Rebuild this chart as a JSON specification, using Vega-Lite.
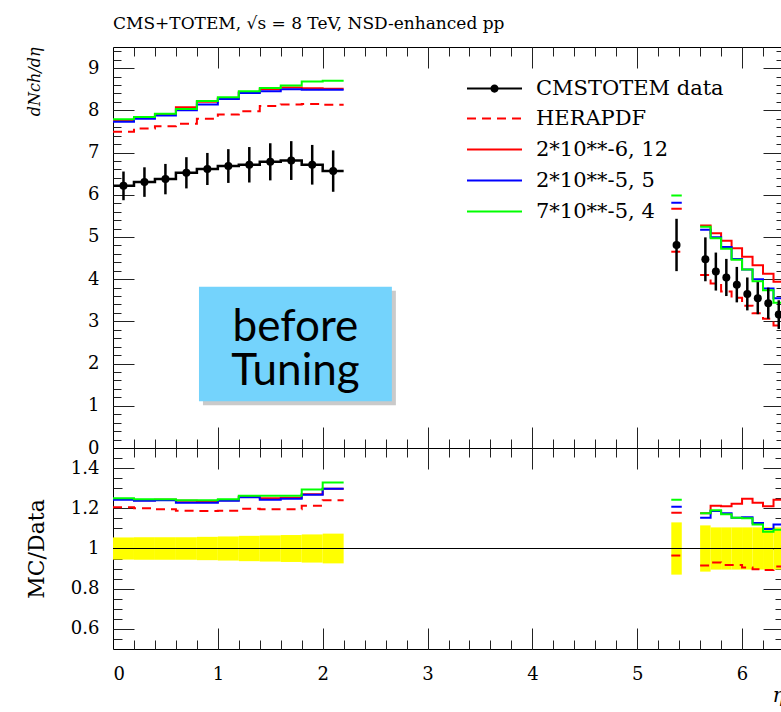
{
  "$schema": "https://vega.github.io/schema/vega-lite/v6.json",
  "padding": {"left": 24, "top": 14, "right": 0, "bottom": 0},
  "background": "white",
  "spacing": 0,
  "bounds": "flush",
  "config": {
    "font": "DejaVu Serif",
    "view": {"stroke": "black", "strokeWidth": 1},
    "axis": {"grid": false, "domain": false, "labelFont": "DejaVu Serif", "labelFontSize": 18, "labelColor": "black", "tickColor": "#222", "tickWidth": 1, "labelPadding": 14, "minExtent": 0, "titleFont": "DejaVu Serif", "titleColor": "black", "titleFontWeight": "normal"}
  },
  "resolve": {"scale": {"color": "independent", "strokeDash": "independent", "shape": "independent"}},
  "datasets": {
    "mc": [
      {"s": "HERAPDF", "g": "c", "lo": 0.0, "hi": 0.2, "v": 7.49, "r": 1.205},
      {"s": "HERAPDF", "g": "c", "lo": 0.2, "hi": 0.4, "v": 7.57, "r": 1.200},
      {"s": "HERAPDF", "g": "c", "lo": 0.4, "hi": 0.6, "v": 7.62, "r": 1.195},
      {"s": "HERAPDF", "g": "c", "lo": 0.6, "hi": 0.8, "v": 7.68, "r": 1.188},
      {"s": "HERAPDF", "g": "c", "lo": 0.8, "hi": 1.0, "v": 7.80, "r": 1.187},
      {"s": "HERAPDF", "g": "c", "lo": 1.0, "hi": 1.2, "v": 7.90, "r": 1.188},
      {"s": "HERAPDF", "g": "c", "lo": 1.2, "hi": 1.4, "v": 7.98, "r": 1.198},
      {"s": "HERAPDF", "g": "c", "lo": 1.4, "hi": 1.6, "v": 8.10, "r": 1.195},
      {"s": "HERAPDF", "g": "c", "lo": 1.6, "hi": 1.8, "v": 8.14, "r": 1.195},
      {"s": "HERAPDF", "g": "c", "lo": 1.8, "hi": 2.0, "v": 8.15, "r": 1.213},
      {"s": "HERAPDF", "g": "c", "lo": 2.0, "hi": 2.2, "v": 8.13, "r": 1.240},
      {"s": "HERAPDF", "g": "a", "lo": 5.325, "hi": 5.425, "v": 4.65, "r": 0.965},
      {"s": "HERAPDF", "g": "f", "lo": 5.6, "hi": 5.7, "v": 4.10, "r": 0.915},
      {"s": "HERAPDF", "g": "f", "lo": 5.7, "hi": 5.8, "v": 3.90, "r": 0.930},
      {"s": "HERAPDF", "g": "f", "lo": 5.8, "hi": 5.9, "v": 3.71, "r": 0.918},
      {"s": "HERAPDF", "g": "f", "lo": 5.9, "hi": 6.0, "v": 3.56, "r": 0.918},
      {"s": "HERAPDF", "g": "f", "lo": 6.0, "hi": 6.1, "v": 3.37, "r": 0.905},
      {"s": "HERAPDF", "g": "f", "lo": 6.1, "hi": 6.2, "v": 3.19, "r": 0.897},
      {"s": "HERAPDF", "g": "f", "lo": 6.2, "hi": 6.3, "v": 3.06, "r": 0.893},
      {"s": "HERAPDF", "g": "f", "lo": 6.3, "hi": 6.4, "v": 2.90, "r": 0.910},

      {"s": "2*10**-6, 12", "g": "c", "lo": 0.0, "hi": 0.2, "v": 7.76, "r": 1.246},
      {"s": "2*10**-6, 12", "g": "c", "lo": 0.2, "hi": 0.4, "v": 7.83, "r": 1.240},
      {"s": "2*10**-6, 12", "g": "c", "lo": 0.4, "hi": 0.6, "v": 7.91, "r": 1.242},
      {"s": "2*10**-6, 12", "g": "c", "lo": 0.6, "hi": 0.8, "v": 8.07, "r": 1.237},
      {"s": "2*10**-6, 12", "g": "c", "lo": 0.8, "hi": 1.0, "v": 8.20, "r": 1.233},
      {"s": "2*10**-6, 12", "g": "c", "lo": 1.0, "hi": 1.2, "v": 8.28, "r": 1.240},
      {"s": "2*10**-6, 12", "g": "c", "lo": 1.2, "hi": 1.4, "v": 8.43, "r": 1.257},
      {"s": "2*10**-6, 12", "g": "c", "lo": 1.4, "hi": 1.6, "v": 8.50, "r": 1.250},
      {"s": "2*10**-6, 12", "g": "c", "lo": 1.6, "hi": 1.8, "v": 8.54, "r": 1.252},
      {"s": "2*10**-6, 12", "g": "c", "lo": 1.8, "hi": 2.0, "v": 8.52, "r": 1.270},
      {"s": "2*10**-6, 12", "g": "c", "lo": 2.0, "hi": 2.2, "v": 8.51, "r": 1.297},
      {"s": "2*10**-6, 12", "g": "a", "lo": 5.325, "hi": 5.425, "v": 5.67, "r": 1.178},
      {"s": "2*10**-6, 12", "g": "f", "lo": 5.6, "hi": 5.7, "v": 5.27, "r": 1.175},
      {"s": "2*10**-6, 12", "g": "f", "lo": 5.7, "hi": 5.8, "v": 5.09, "r": 1.213},
      {"s": "2*10**-6, 12", "g": "f", "lo": 5.8, "hi": 5.9, "v": 4.91, "r": 1.210},
      {"s": "2*10**-6, 12", "g": "f", "lo": 5.9, "hi": 6.0, "v": 4.73, "r": 1.223},
      {"s": "2*10**-6, 12", "g": "f", "lo": 6.0, "hi": 6.1, "v": 4.53, "r": 1.248},
      {"s": "2*10**-6, 12", "g": "f", "lo": 6.1, "hi": 6.2, "v": 4.33, "r": 1.228},
      {"s": "2*10**-6, 12", "g": "f", "lo": 6.2, "hi": 6.3, "v": 4.13, "r": 1.210},
      {"s": "2*10**-6, 12", "g": "f", "lo": 6.3, "hi": 6.4, "v": 3.94, "r": 1.242},

      {"s": "2*10**-5, 5", "g": "c", "lo": 0.0, "hi": 0.2, "v": 7.73, "r": 1.243},
      {"s": "2*10**-5, 5", "g": "c", "lo": 0.2, "hi": 0.4, "v": 7.80, "r": 1.238},
      {"s": "2*10**-5, 5", "g": "c", "lo": 0.4, "hi": 0.6, "v": 7.88, "r": 1.240},
      {"s": "2*10**-5, 5", "g": "c", "lo": 0.6, "hi": 0.8, "v": 8.00, "r": 1.227},
      {"s": "2*10**-5, 5", "g": "c", "lo": 0.8, "hi": 1.0, "v": 8.14, "r": 1.228},
      {"s": "2*10**-5, 5", "g": "c", "lo": 1.0, "hi": 1.2, "v": 8.27, "r": 1.238},
      {"s": "2*10**-5, 5", "g": "c", "lo": 1.2, "hi": 1.4, "v": 8.41, "r": 1.255},
      {"s": "2*10**-5, 5", "g": "c", "lo": 1.4, "hi": 1.6, "v": 8.45, "r": 1.243},
      {"s": "2*10**-5, 5", "g": "c", "lo": 1.6, "hi": 1.8, "v": 8.50, "r": 1.248},
      {"s": "2*10**-5, 5", "g": "c", "lo": 1.8, "hi": 2.0, "v": 8.49, "r": 1.267},
      {"s": "2*10**-5, 5", "g": "c", "lo": 2.0, "hi": 2.2, "v": 8.49, "r": 1.297},
      {"s": "2*10**-5, 5", "g": "a", "lo": 5.325, "hi": 5.425, "v": 5.81, "r": 1.208},
      {"s": "2*10**-5, 5", "g": "f", "lo": 5.6, "hi": 5.7, "v": 5.17, "r": 1.153},
      {"s": "2*10**-5, 5", "g": "f", "lo": 5.7, "hi": 5.8, "v": 4.99, "r": 1.187},
      {"s": "2*10**-5, 5", "g": "f", "lo": 5.8, "hi": 5.9, "v": 4.76, "r": 1.175},
      {"s": "2*10**-5, 5", "g": "f", "lo": 5.9, "hi": 6.0, "v": 4.48, "r": 1.153},
      {"s": "2*10**-5, 5", "g": "f", "lo": 6.0, "hi": 6.1, "v": 4.23, "r": 1.155},
      {"s": "2*10**-5, 5", "g": "f", "lo": 6.1, "hi": 6.2, "v": 4.00, "r": 1.127},
      {"s": "2*10**-5, 5", "g": "f", "lo": 6.2, "hi": 6.3, "v": 3.78, "r": 1.097},
      {"s": "2*10**-5, 5", "g": "f", "lo": 6.3, "hi": 6.4, "v": 3.55, "r": 1.120},

      {"s": "7*10**-5, 4", "g": "c", "lo": 0.0, "hi": 0.2, "v": 7.79, "r": 1.250},
      {"s": "7*10**-5, 4", "g": "c", "lo": 0.2, "hi": 0.4, "v": 7.84, "r": 1.245},
      {"s": "7*10**-5, 4", "g": "c", "lo": 0.4, "hi": 0.6, "v": 7.92, "r": 1.245},
      {"s": "7*10**-5, 4", "g": "c", "lo": 0.6, "hi": 0.8, "v": 8.03, "r": 1.240},
      {"s": "7*10**-5, 4", "g": "c", "lo": 0.8, "hi": 1.0, "v": 8.22, "r": 1.240},
      {"s": "7*10**-5, 4", "g": "c", "lo": 1.0, "hi": 1.2, "v": 8.31, "r": 1.245},
      {"s": "7*10**-5, 4", "g": "c", "lo": 1.2, "hi": 1.4, "v": 8.45, "r": 1.262},
      {"s": "7*10**-5, 4", "g": "c", "lo": 1.4, "hi": 1.6, "v": 8.53, "r": 1.262},
      {"s": "7*10**-5, 4", "g": "c", "lo": 1.6, "hi": 1.8, "v": 8.59, "r": 1.263},
      {"s": "7*10**-5, 4", "g": "c", "lo": 1.8, "hi": 2.0, "v": 8.68, "r": 1.293},
      {"s": "7*10**-5, 4", "g": "c", "lo": 2.0, "hi": 2.2, "v": 8.70, "r": 1.328},
      {"s": "7*10**-5, 4", "g": "a", "lo": 5.325, "hi": 5.425, "v": 5.98, "r": 1.242},
      {"s": "7*10**-5, 4", "g": "f", "lo": 5.6, "hi": 5.7, "v": 5.24, "r": 1.175},
      {"s": "7*10**-5, 4", "g": "f", "lo": 5.7, "hi": 5.8, "v": 4.97, "r": 1.190},
      {"s": "7*10**-5, 4", "g": "f", "lo": 5.8, "hi": 5.9, "v": 4.72, "r": 1.170},
      {"s": "7*10**-5, 4", "g": "f", "lo": 5.9, "hi": 6.0, "v": 4.46, "r": 1.153},
      {"s": "7*10**-5, 4", "g": "f", "lo": 6.0, "hi": 6.1, "v": 4.23, "r": 1.150},
      {"s": "7*10**-5, 4", "g": "f", "lo": 6.1, "hi": 6.2, "v": 3.95, "r": 1.120},
      {"s": "7*10**-5, 4", "g": "f", "lo": 6.2, "hi": 6.3, "v": 3.74, "r": 1.083},
      {"s": "7*10**-5, 4", "g": "f", "lo": 6.3, "hi": 6.4, "v": 3.44, "r": 1.093}
    ],
    "pts": [
      {"g": "c", "lo": 0.0, "hi": 0.2, "x": 0.1, "y": 6.21, "e": 0.34, "blo": 0.945, "bhi": 1.055},
      {"g": "c", "lo": 0.2, "hi": 0.4, "x": 0.3, "y": 6.30, "e": 0.35, "blo": 0.944, "bhi": 1.056},
      {"g": "c", "lo": 0.4, "hi": 0.6, "x": 0.5, "y": 6.37, "e": 0.36, "blo": 0.944, "bhi": 1.056},
      {"g": "c", "lo": 0.6, "hi": 0.8, "x": 0.7, "y": 6.52, "e": 0.37, "blo": 0.944, "bhi": 1.056},
      {"g": "c", "lo": 0.8, "hi": 1.0, "x": 0.9, "y": 6.61, "e": 0.38, "blo": 0.942, "bhi": 1.058},
      {"g": "c", "lo": 1.0, "hi": 1.2, "x": 1.1, "y": 6.68, "e": 0.40, "blo": 0.940, "bhi": 1.060},
      {"g": "c", "lo": 1.2, "hi": 1.4, "x": 1.3, "y": 6.71, "e": 0.42, "blo": 0.937, "bhi": 1.063},
      {"g": "c", "lo": 1.4, "hi": 1.6, "x": 1.5, "y": 6.78, "e": 0.44, "blo": 0.935, "bhi": 1.065},
      {"g": "c", "lo": 1.6, "hi": 1.8, "x": 1.7, "y": 6.81, "e": 0.46, "blo": 0.933, "bhi": 1.067},
      {"g": "c", "lo": 1.8, "hi": 2.0, "x": 1.9, "y": 6.71, "e": 0.47, "blo": 0.930, "bhi": 1.070},
      {"g": "c", "lo": 2.0, "hi": 2.2, "x": 2.1, "y": 6.56, "e": 0.49, "blo": 0.926, "bhi": 1.074},
      {"g": "a", "lo": 5.325, "hi": 5.425, "x": 5.375, "y": 4.81, "e": 0.62, "blo": 0.870, "bhi": 1.130},
      {"g": "f", "lo": 5.6, "hi": 5.7, "x": 5.65, "y": 4.47, "e": 0.52, "blo": 0.885, "bhi": 1.115},
      {"g": "f", "lo": 5.7, "hi": 5.8, "x": 5.75, "y": 4.18, "e": 0.45, "blo": 0.895, "bhi": 1.105},
      {"g": "f", "lo": 5.8, "hi": 5.9, "x": 5.85, "y": 4.04, "e": 0.44, "blo": 0.895, "bhi": 1.105},
      {"g": "f", "lo": 5.9, "hi": 6.0, "x": 5.95, "y": 3.87, "e": 0.42, "blo": 0.895, "bhi": 1.105},
      {"g": "f", "lo": 6.0, "hi": 6.1, "x": 6.05, "y": 3.65, "e": 0.39, "blo": 0.895, "bhi": 1.105},
      {"g": "f", "lo": 6.1, "hi": 6.2, "x": 6.15, "y": 3.55, "e": 0.38, "blo": 0.895, "bhi": 1.105},
      {"g": "f", "lo": 6.2, "hi": 6.3, "x": 6.25, "y": 3.43, "e": 0.37, "blo": 0.895, "bhi": 1.105},
      {"g": "f", "lo": 6.3, "hi": 6.4, "x": 6.35, "y": 3.16, "e": 0.34, "blo": 0.895, "bhi": 1.105}
    ],
    "box": [
      {"x1": 0.82, "x2": 2.66, "y1": 1.11, "y2": 3.82, "xc": 1.74, "yc": 2.535, "t": "before\nTuning"}
    ],
    "one": [{"v": 1}]
  },
  "vconcat": [
    {
      "width": 671,
      "height": 401,
      "title": {"text": "CMS+TOTEM, √s = 8 TeV, NSD-enhanced pp", "anchor": "start", "frame": "group", "font": "DejaVu Serif", "fontSize": 17, "fontWeight": "normal", "color": "black", "baseline": "alphabetic", "offset": 1},
      "resolve": {"axis": {"x": "independent", "y": "independent"}},
      "layer": [
        {
          "data": {"name": "box"},
          "mark": {"type": "rect", "color": "#8a8a8a", "opacity": 0.45, "xOffset": 4, "x2Offset": 4, "yOffset": 4, "y2Offset": 4},
          "encoding": {
            "x": {"field": "x1", "type": "quantitative", "scale": {"domain": [0, 6.4], "nice": false, "zero": false},
              "axis": {"orient": "bottom", "values": [1,2,3,4,5,6], "tickSize": -21, "labels": false, "title": null}},
            "x2": {"field": "x2"},
            "y": {"field": "y1", "type": "quantitative", "scale": {"domain": [0, 9.5], "nice": false, "zero": false},
              "axis": {"orient": "left", "values": [0,1,2,3,4,5,6,7,8,9], "ticks": false, "tickSize": 0, "labelPadding": 14, "labelExpr": "toString(datum.value)", "title": "dNch/dη", "titleAnchor": "end", "titleFontStyle": "italic", "titleFontSize": 16, "titlePadding": 45}},
            "y2": {"field": "y2"}
          }
        },
        {
          "data": {"name": "box"},
          "mark": {"type": "rect", "color": "#74d3fc"},
          "encoding": {
            "x": {"field": "x1", "type": "quantitative",
              "axis": {"orient": "bottom", "values": [0.2,0.4,0.6,0.8,1,1.2,1.4,1.6,1.8,2,2.2,2.4,2.6,2.8,3,3.2,3.4,3.6,3.8,4,4.2,4.4,4.6,4.8,5,5.2,5.4,5.6,5.8,6,6.2], "tickSize": -9, "labels": false, "title": null}},
            "x2": {"field": "x2"},
            "y": {"field": "y1", "type": "quantitative",
              "axis": {"orient": "left", "values": [1,2,3,4,5,6,7,8,9], "tickSize": -21, "labels": false, "title": null}},
            "y2": {"field": "y2"}
          }
        },
        {
          "data": {"name": "box"},
          "mark": {"type": "text", "font": "Lato", "fontSize": 44, "color": "black", "align": "center", "baseline": "alphabetic", "lineBreak": "\n", "lineHeight": 44},
          "encoding": {
            "x": {"field": "xc", "type": "quantitative",
              "axis": {"orient": "top", "values": [1,2,3,4,5,6], "tickSize": -21, "labels": false, "title": null}},
            "y": {"field": "yc", "type": "quantitative",
              "axis": {"orient": "left", "values": [0.2,0.4,0.6,0.8,1,1.2,1.4,1.6,1.8,2,2.2,2.4,2.6,2.8,3,3.2,3.4,3.6,3.8,4,4.2,4.4,4.6,4.8,5,5.2,5.4,5.6,5.8,6,6.2,6.4,6.6,6.8,7,7.2,7.4,7.6,7.8,8,8.2,8.4,8.6,8.8,9,9.2,9.4], "tickSize": -8, "labels": false, "title": null}},
            "text": {"field": "t"}
          }
        },
        {
          "data": {"name": "mc"},
          "transform": [{"fold": ["lo", "hi"], "as": ["edge", "ex"]}],
          "mark": {"type": "line", "strokeWidth": 2, "clip": true},
          "encoding": {
            "x": {"field": "ex", "type": "quantitative",
              "axis": {"orient": "top", "values": [0.2,0.4,0.6,0.8,1,1.2,1.4,1.6,1.8,2,2.2,2.4,2.6,2.8,3,3.2,3.4,3.6,3.8,4,4.2,4.4,4.6,4.8,5,5.2,5.4,5.6,5.8,6,6.2], "tickSize": -9, "labels": false, "title": null}},
            "y": {"field": "v", "type": "quantitative",
              "axis": {"orient": "right", "values": [1,2,3,4,5,6,7,8,9], "tickSize": -21, "labels": false, "title": null}},
            "color": {
              "field": "s", "type": "nominal",
              "scale": {"domain": ["HERAPDF", "2*10**-6, 12", "2*10**-5, 5", "7*10**-5, 4"], "range": ["#ff0000", "#ff0000", "#0000ff", "#00ff00"]},
              "legend": {"orient": "none", "legendX": 371, "legendY": 61, "title": null, "padding": 0, "symbolType": "M-5,0H5", "symbolSize": 121, "symbolStrokeWidth": 2, "labelFont": "DejaVu Serif", "labelFontSize": 21, "labelColor": "black", "labelOffset": 31, "labelLimit": 400, "rowPadding": 9}
            },
            "strokeDash": {
              "field": "s", "type": "nominal",
              "scale": {"domain": ["HERAPDF", "2*10**-6, 12", "2*10**-5, 5", "7*10**-5, 4"], "range": [[9, 6], [1, 0], [1, 0], [1, 0]]},
              "legend": {"orient": "none", "legendX": 371, "legendY": 61, "title": null, "padding": 0, "symbolType": "M-5,0H5", "symbolSize": 121, "symbolStrokeWidth": 2, "labelFont": "DejaVu Serif", "labelFontSize": 21, "labelColor": "black", "labelOffset": 31, "labelLimit": 400, "rowPadding": 9}
            },
            "detail": {"field": "g"},
            "order": [{"field": "ex", "type": "quantitative"}, {"field": "edge", "type": "ordinal"}]
          }
        },
        {
          "data": {"name": "pts"},
          "transform": [{"filter": "datum.g === 'c'"}, {"fold": ["lo", "hi"], "as": ["edge", "ex"]}],
          "mark": {"type": "line", "color": "black", "strokeWidth": 2.5, "clip": true},
          "encoding": {
            "x": {"field": "ex", "type": "quantitative", "axis": null},
            "y": {"field": "y", "type": "quantitative",
              "axis": {"orient": "right", "values": [0.2,0.4,0.6,0.8,1,1.2,1.4,1.6,1.8,2,2.2,2.4,2.6,2.8,3,3.2,3.4,3.6,3.8,4,4.2,4.4,4.6,4.8,5,5.2,5.4,5.6,5.8,6,6.2,6.4,6.6,6.8,7,7.2,7.4,7.6,7.8,8,8.2,8.4,8.6,8.8,9,9.2,9.4], "tickSize": -8, "labels": false, "title": null}},
            "order": [{"field": "ex", "type": "quantitative"}, {"field": "edge", "type": "ordinal"}]
          }
        },
        {
          "data": {"name": "pts"},
          "mark": {"type": "errorbar", "color": "black", "thickness": 2.5},
          "encoding": {
            "x": {"field": "x", "type": "quantitative", "axis": null},
            "y": {"field": "y", "type": "quantitative", "axis": null},
            "yError": {"field": "e"}
          }
        },
        {
          "data": {"name": "pts"},
          "transform": [{"filter": "datum.x === 0.1"}],
          "mark": {"type": "point", "filled": true, "color": "black", "opacity": 0, "size": 121},
          "encoding": {
            "x": {"field": "x", "type": "quantitative", "axis": null},
            "y": {"field": "y", "type": "quantitative", "axis": null},
            "shape": {"datum": "CMSTOTEM data", "type": "nominal", "scale": {"range": ["M-5,-0.18H5V0.18H-5ZM0.75,0A0.75,0.75,0,1,1,-0.75,0A0.75,0.75,0,1,1,0.75,0Z"]},
              "legend": {"orient": "none", "legendX": 371, "legendY": 31, "title": null, "padding": 0, "symbolSize": 121, "symbolOpacity": 1, "symbolFillColor": "black", "symbolStrokeWidth": 0, "labelFont": "DejaVu Serif", "labelFontSize": 21, "labelColor": "black", "labelOffset": 31, "labelLimit": 400}}
          }
        },
        {
          "data": {"name": "pts"},
          "mark": {"type": "point", "filled": true, "color": "black", "opacity": 1, "size": 64},
          "encoding": {
            "x": {"field": "x", "type": "quantitative", "axis": null},
            "y": {"field": "y", "type": "quantitative", "axis": null}
          }
        }
      ]
    },
    {
      "width": 671,
      "height": 201,
      "resolve": {"axis": {"x": "independent", "y": "independent"}},
      "layer": [
        {
          "data": {"name": "pts"},
          "mark": {"type": "rect", "color": "#ffff00"},
          "encoding": {
            "x": {"field": "lo", "type": "quantitative", "scale": {"domain": [0, 6.4], "nice": false, "zero": false},
              "axis": {"orient": "bottom", "values": [0,1,2,3,4,5,6], "ticks": false, "tickSize": 0, "labelPadding": 16, "labelExpr": "toString(datum.value)", "title": "η", "titleFontStyle": "italic", "titleFontSize": 20, "titleAnchor": "end", "titlePadding": 2}},
            "x2": {"field": "hi"},
            "y": {"field": "blo", "type": "quantitative", "scale": {"domain": [0.5, 1.5], "nice": false, "zero": false},
              "axis": {"orient": "left", "values": [0.6,0.8,1,1.2,1.4], "ticks": false, "tickSize": 0, "labelPadding": 14, "labelExpr": "toString(datum.value)", "title": "MC/Data", "titleFontSize": 22, "titlePadding": 22}},
            "y2": {"field": "bhi"}
          }
        },
        {
          "data": {"name": "one"},
          "mark": {"type": "rule", "color": "black", "strokeWidth": 1},
          "encoding": {
            "y": {"field": "v", "type": "quantitative",
              "axis": {"orient": "left", "values": [0.6,0.8,1,1.2,1.4], "tickSize": -21, "labels": false, "title": null}}
          }
        },
        {
          "data": {"name": "mc"},
          "transform": [{"fold": ["lo", "hi"], "as": ["edge", "ex"]}],
          "mark": {"type": "line", "strokeWidth": 2, "clip": true},
          "encoding": {
            "x": {"field": "ex", "type": "quantitative",
              "axis": {"orient": "bottom", "values": [1,2,3,4,5,6], "tickSize": -21, "labels": false, "title": null}},
            "y": {"field": "r", "type": "quantitative",
              "axis": {"orient": "left", "values": [0.55,0.6,0.65,0.7,0.75,0.8,0.85,0.9,0.95,1,1.05,1.1,1.15,1.2,1.25,1.3,1.35,1.4,1.45], "tickSize": -9, "labels": false, "title": null}},
            "color": {
              "field": "s", "type": "nominal",
              "scale": {"domain": ["HERAPDF", "2*10**-6, 12", "2*10**-5, 5", "7*10**-5, 4"], "range": ["#ff0000", "#ff0000", "#0000ff", "#00ff00"]},
              "legend": null
            },
            "strokeDash": {
              "field": "s", "type": "nominal",
              "scale": {"domain": ["HERAPDF", "2*10**-6, 12", "2*10**-5, 5", "7*10**-5, 4"], "range": [[9, 6], [1, 0], [1, 0], [1, 0]]},
              "legend": null
            },
            "detail": {"field": "g"},
            "order": [{"field": "ex", "type": "quantitative"}, {"field": "edge", "type": "ordinal"}]
          }
        },
        {
          "data": {"name": "pts"},
          "mark": {"type": "point", "opacity": 0},
          "encoding": {
            "x": {"field": "x", "type": "quantitative",
              "axis": {"orient": "bottom", "values": [0.2,0.4,0.6,0.8,1,1.2,1.4,1.6,1.8,2,2.2,2.4,2.6,2.8,3,3.2,3.4,3.6,3.8,4,4.2,4.4,4.6,4.8,5,5.2,5.4,5.6,5.8,6,6.2], "tickSize": -9, "labels": false, "title": null}},
            "y": {"field": "blo", "type": "quantitative",
              "axis": {"orient": "right", "values": [0.6,0.8,1,1.2,1.4], "tickSize": -21, "labels": false, "title": null}}
          }
        },
        {
          "data": {"name": "pts"},
          "mark": {"type": "point", "opacity": 0},
          "encoding": {
            "x": {"field": "x", "type": "quantitative",
              "axis": {"orient": "top", "values": [1,2,3,4,5,6], "tickSize": -21, "labels": false, "title": null}},
            "y": {"field": "blo", "type": "quantitative",
              "axis": {"orient": "right", "values": [0.55,0.6,0.65,0.7,0.75,0.8,0.85,0.9,0.95,1,1.05,1.1,1.15,1.2,1.25,1.3,1.35,1.4,1.45], "tickSize": -9, "labels": false, "title": null}}
          }
        },
        {
          "data": {"name": "pts"},
          "mark": {"type": "point", "opacity": 0},
          "encoding": {
            "x": {"field": "x", "type": "quantitative",
              "axis": {"orient": "top", "values": [0.2,0.4,0.6,0.8,1,1.2,1.4,1.6,1.8,2,2.2,2.4,2.6,2.8,3,3.2,3.4,3.6,3.8,4,4.2,4.4,4.6,4.8,5,5.2,5.4,5.6,5.8,6,6.2], "tickSize": -9, "labels": false, "title": null}},
            "y": {"field": "blo", "type": "quantitative", "axis": null}
          }
        }
      ]
    }
  ]
}
